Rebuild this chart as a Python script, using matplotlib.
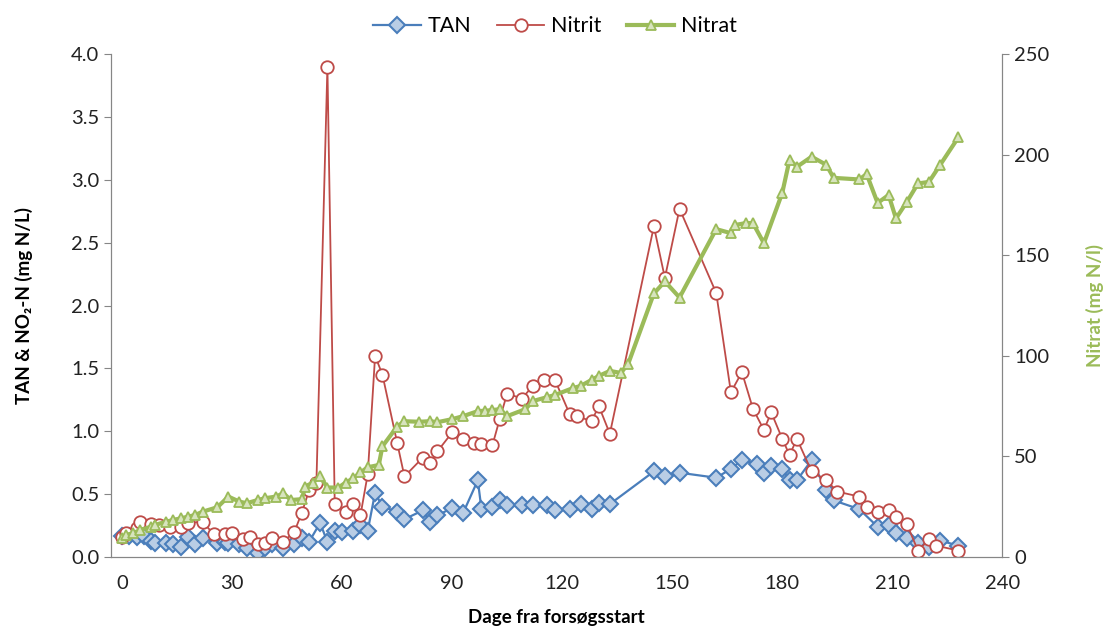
import matplotlib
matplotlib.use("Agg")
import matplotlib.pyplot as plt
from matplotlib.ticker import FormatStrFormatter

plt.rcParams['font.family'] = ['Lato', 'DejaVu Sans']

# TAN (mg N/L)
tan_days = [0, 2, 4, 6, 8, 9, 12, 14, 16, 18, 20, 22, 26, 28, 29, 32, 34, 37, 39, 41,
            44, 47, 49, 51, 54, 56, 58, 60, 63, 65, 67, 69, 71, 75, 77, 82, 84, 86, 90, 93,
            97, 98, 101, 103, 105, 109, 112, 116, 118, 122, 125, 128, 130, 133, 145, 148, 152, 162, 166, 169,
            173, 175, 177, 180, 182, 184, 188, 192, 194, 201, 206, 209, 211, 214, 217, 220, 223, 228]
tan_vals = [0.17, 0.17, 0.16, 0.17, 0.13, 0.11, 0.11, 0.10, 0.08, 0.16, 0.10, 0.15, 0.11, 0.12, 0.11, 0.10, 0.07, 0.03, 0.07, 0.10,
            0.07, 0.10, 0.15, 0.12, 0.27, 0.12, 0.21, 0.20, 0.21, 0.25, 0.21, 0.51, 0.40, 0.36, 0.30, 0.37, 0.28, 0.33, 0.39, 0.35,
            0.61, 0.38, 0.40, 0.45, 0.41, 0.41, 0.41, 0.41, 0.37, 0.38, 0.42, 0.38, 0.43, 0.42, 0.68, 0.64, 0.67, 0.63, 0.70, 0.77,
            0.74, 0.67, 0.72, 0.70, 0.61, 0.61, 0.77, 0.53, 0.45, 0.38, 0.24, 0.25, 0.19, 0.15, 0.11, 0.08, 0.13, 0.09]

# Nitrit (mg N/L)
no2_days = [0, 1, 4, 5, 8, 10, 13, 16, 18, 22, 25, 28, 30, 33, 35, 37, 39, 41, 44, 47,
            49, 51, 53, 56, 58, 61, 63, 65, 67, 69, 71, 75, 77, 82, 84, 86, 90, 93, 96, 98,
            101, 103, 105, 109, 112, 115, 118, 122, 124, 128, 130, 133, 145, 148, 152, 162, 166, 169, 172, 175,
            177, 180, 182, 184, 188, 192, 195, 201, 203, 206, 209, 211, 214, 217, 220, 222, 228]
no2_vals = [0.16, 0.19, 0.23, 0.28, 0.26, 0.25, 0.24, 0.24, 0.27, 0.28, 0.18, 0.18, 0.19, 0.14, 0.16, 0.10, 0.11, 0.15, 0.12, 0.20,
            0.35, 0.53, 0.59, 3.90, 0.42, 0.36, 0.42, 0.33, 0.66, 1.60, 1.45, 0.91, 0.64, 0.79, 0.75, 0.84, 0.99, 0.94, 0.91, 0.90,
            0.89, 1.10, 1.30, 1.26, 1.36, 1.41, 1.41, 1.14, 1.12, 1.08, 1.20, 0.98, 2.63, 2.22, 2.77, 2.10, 1.31, 1.47, 1.18, 1.01,
            1.15, 0.94, 0.81, 0.94, 0.68, 0.61, 0.52, 0.48, 0.40, 0.36, 0.37, 0.32, 0.26, 0.05, 0.14, 0.09, 0.05]

# Nitrat (mg N/l), right axis
no3_days = [0, 1, 3, 5, 8, 9, 12, 14, 16, 18, 20, 22, 26, 29, 32, 34, 37, 39, 42, 44,
            46, 49, 50, 52, 54, 56, 59, 61, 63, 65, 67, 70, 71, 75, 77, 81, 84, 86, 90, 93,
            97, 99, 101, 103, 105, 110, 112, 116, 118, 123, 125, 128, 130, 133, 136, 138, 145, 148, 152, 162,
            166, 167, 170, 172, 175, 180, 182, 184, 188, 192, 194, 201, 203, 206, 209, 211, 214, 217, 220, 223, 228]
no3_vals = [9.3, 10.9, 11.8, 13.4, 15.1, 15.9, 17.5, 18.4, 19.2, 20.0, 20.9, 22.5, 24.7, 30.0, 27.5, 26.7, 28.3, 29.2, 30.0, 31.7,
            28.3, 28.7, 35.0, 37.0, 40.0, 34.5, 34.5, 37.0, 39.0, 42.0, 44.6, 45.7, 55.0, 64.8, 67.5, 67.2, 67.5, 67.0, 68.5, 70.0,
            72.5, 72.7, 73.0, 73.5, 70.0, 73.5, 77.5, 79.5, 80.5, 84.0, 85.0, 88.0, 90.0, 92.5, 91.5, 96.0, 131.0, 137.0, 129.0, 163.0,
            161.0, 165.0, 166.0, 166.0, 156.0, 181.0, 197.6, 194.0, 199.0, 195.0, 188.5, 187.7, 190.4, 176.0, 180.0, 168.3, 176.6, 185.7, 186.5, 194.8, 208.6]

x_ticks = [0, 30, 60, 90, 120, 150, 180, 210, 240]

fig = plt.figure(figsize=(11.1, 6.3), dpi=100)
ax = fig.add_axes([0.1, 0.116, 0.803, 0.798])
ax2 = ax.twinx()

spine_col = '#868686'

l1, = ax.plot(tan_days, tan_vals, color='#4A7EBB', lw=1.6, marker='D', ms=8.5,
              mfc='#B9CDE5', mec='#4A7EBB', mew=1.5, label='TAN')
l2, = ax.plot(no2_days, no2_vals, color='#BE4B48', lw=1.3, marker='o', ms=9,
              mfc='white', mec='#BE4B48', mew=1.3, label='Nitrit')
l3, = ax2.plot(no3_days, no3_vals, color='#9BBB59', lw=3, marker='^', ms=7.5,
               mfc='#D7E4BD', mec='#9BBB59', mew=1.3, label='Nitrat')

ax.set_xlim(-3, 240)
ax.set_ylim(0, 4.0)
ax2.set_ylim(0, 250)
ax.set_xticks(x_ticks)
ax.set_yticks([0, 0.5, 1.0, 1.5, 2.0, 2.5, 3.0, 3.5, 4.0])
ax.yaxis.set_major_formatter(FormatStrFormatter('%.1f'))
ax2.set_yticks([0, 50, 100, 150, 200, 250])

for a in (ax, ax2):
    a.spines['top'].set_visible(False)
    for s in ('left', 'right', 'bottom'):
        a.spines[s].set_color(spine_col)
    a.tick_params(labelsize=14.5, color=spine_col, length=5, labelcolor='#222222')
ax.tick_params(axis='x', length=0, pad=13)

ax.set_xlabel('Dage fra forsøgsstart', fontsize=13.5, fontweight='bold', labelpad=12)
ax.set_ylabel('TAN & NO₂-N (mg N/L)', fontsize=13.5, fontweight='bold', labelpad=27)
ax2.set_ylabel('Nitrat (mg N/l)', fontsize=13.5, fontweight='bold', color='#9BBB59', labelpad=26)

fig.legend(handles=[l1, l2, l3], loc='upper center', bbox_to_anchor=(0.5, 1.005), ncol=3,
           frameon=False, fontsize=15.5, handlelength=2.2, columnspacing=1.2, handletextpad=0.3)

fig.savefig('out.png', dpi=100)
